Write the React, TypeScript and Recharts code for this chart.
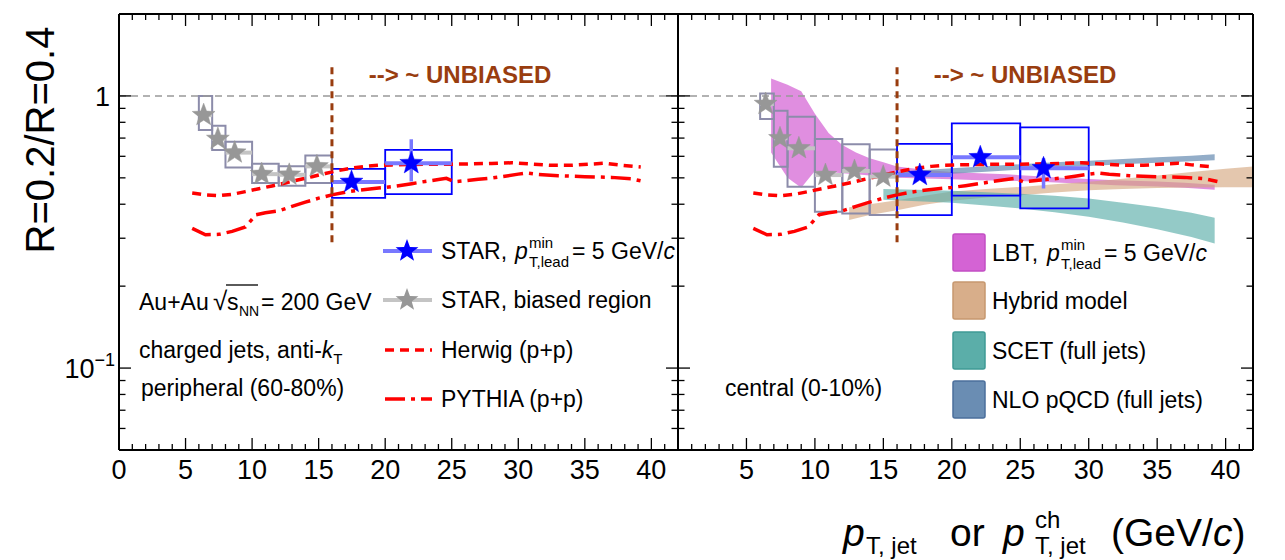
import React from "react";
import { ComposedChart, XAxis, YAxis, Line, Area, Scatter, ReferenceLine, ReferenceArea } from "recharts";

const FONT = "'Liberation Sans', Arial, Helvetica, sans-serif";

// ---------- axis ticks ----------
const xTicks = [0,1,2,3,4,5,6,7,8,9,10,11,12,13,14,15,16,17,18,19,20,21,22,23,24,25,26,27,28,29,30,31,32,33,34,35,36,37,38,39,40,41,42];
const xLabelsLeft = [0,5,10,15,20,25,30,35,40];
const xLabelsRight = [5,10,15,20,25,30,35,40];
const yTicks = [0.06,0.07,0.08,0.09,0.1,0.2,0.3,0.4,0.5,0.6,0.7,0.8,0.9,1];
const yMajor = [0.1, 1];

// ---------- p+p model curves (both panels) ----------
const herwigX = [5.5,6.5,7.5,8.5,9.5,10.5,11.5,12.5,13.5,14.5,15.5,16.5,17.5,18.5,19.5,20.5,22,24,26,28,29.5,31,32.5,34,35.5,36.5,37.5,39.2];
const herwigY = [0.44,0.433,0.43,0.435,0.445,0.456,0.467,0.479,0.492,0.505,0.519,0.532,0.543,0.551,0.556,0.558,0.56,0.561,0.562,0.565,0.568,0.562,0.556,0.556,0.562,0.566,0.558,0.548];
const pythiaX = [5.5,6.5,7.5,8.5,9.5,10.3,11,12,13,14,15,16,17,18,19,20,21,22,23,24,24.6,25.2,26,27,28,29,30,30.7,31.5,33,35,37,38.5,39.4];
const pythiaY = [0.326,0.309,0.31,0.318,0.33,0.366,0.372,0.378,0.393,0.407,0.421,0.433,0.443,0.45,0.456,0.461,0.468,0.476,0.485,0.493,0.498,0.484,0.488,0.494,0.499,0.507,0.516,0.521,0.515,0.509,0.505,0.502,0.496,0.485];

// ---------- peripheral (60-80%) ----------
const periGrayX = [6.36,7.43,8.69,10.72,12.79,14.87];
const periGrayY = [0.85,0.695,0.619,0.516,0.513,0.551];
const periGrayBinLo = [6,7,8,10,12,14];
const periGrayBinHi = [7,8,10,12,14,16];
const periGraySysLo = [0.749,0.633,0.546,0.479,0.468,0.479];
const periGraySysHi = [1.0,0.777,0.679,0.563,0.551,0.604];
const periBlueX = [17.47,21.96];
const periBlueY = [0.483,0.566];
const periBlueBinLo = [16,20];
const periBlueBinHi = [20,25];
const periBlueSysLo = [0.422,0.436];
const periBlueSysHi = [0.539,0.633];
const periBlueStatLo = [0.465,0.485];
const periBlueStatHi = [0.5,0.693];

// ---------- central (0-10%) ----------
const centGrayX = [6.4,7.45,8.83,10.77,12.89,14.99];
const centGrayY = [0.934,0.699,0.642,0.512,0.53,0.505];
const centGrayBinLo = [6,7,8,10,12,14];
const centGrayBinHi = [7,8,10,12,14,16];
const centGraySysLo = [0.823,0.549,0.464,0.375,0.37,0.365];
const centGraySysHi = [1.02,0.883,0.839,0.695,0.664,0.636];
const centBlueX = [17.66,22.08,26.7];
const centBlueY = [0.512,0.595,0.542];
const centBlueBinLo = [16,20,25];
const centBlueBinHi = [20,25,30];
const centBlueSysLo = [0.365,0.43,0.386];
const centBlueSysHi = [0.666,0.793,0.767];
const centBlueStatLo = [0.497,0.578,0.457];
const centBlueStatHi = [0.528,0.613,0.59];

// ---------- theory bands (central) ----------
const lbtX = [6.8,8,9,10,11,12,13,14,15,16,18,20,22,24,26,28,30,32,35,37,39.2];
const lbtLo = [0.62,0.5,0.46,0.53,0.525,0.52,0.515,0.51,0.505,0.5,0.497,0.494,0.49,0.488,0.485,0.48,0.475,0.47,0.465,0.46,0.452];
const lbtHi = [1.16,1.1,1.04,0.86,0.73,0.66,0.62,0.59,0.57,0.55,0.535,0.525,0.52,0.515,0.508,0.5,0.495,0.49,0.485,0.48,0.472];
const hybX = [12.5,14,16,18,20,22.5,25,27.5,30,32.5,35,37.5,40,42];
const hybLo = [0.35,0.365,0.38,0.398,0.412,0.423,0.432,0.442,0.45,0.455,0.459,0.461,0.462,0.462];
const hybHi = [0.39,0.4,0.414,0.43,0.445,0.455,0.463,0.474,0.484,0.496,0.51,0.525,0.54,0.55];
const scetX = [15,17.5,20,22.5,25,27.5,30,32.5,35,37.5,39.2];
const scetLo = [0.415,0.41,0.405,0.396,0.386,0.374,0.36,0.343,0.324,0.303,0.287];
const scetHi = [0.455,0.452,0.448,0.443,0.437,0.43,0.42,0.405,0.39,0.372,0.357];
const nloX = [15,17.5,20,22.5,25,27.5,30,32.5,35,37.5,39.2];
const nloLo = [0.498,0.508,0.518,0.527,0.536,0.545,0.553,0.561,0.568,0.575,0.58];
const nloHi = [0.522,0.532,0.542,0.552,0.561,0.57,0.578,0.587,0.595,0.603,0.61];

// ---------- builders ----------
const pts = (xs: number[], ys: number[]) => xs.map((x, i) => ({ x, y: ys[i] }));
const band = (xs: number[], lo: number[], hi: number[]) => xs.map((x, i) => ({ x, r: [lo[i], hi[i]] }));

const herwigData = pts(herwigX, herwigY);
const pythiaData = pts(pythiaX, pythiaY);

type PanelSet = {
  grayX: number[]; grayY: number[]; grayBinLo: number[]; grayBinHi: number[]; graySysLo: number[]; graySysHi: number[];
  blueX: number[]; blueY: number[]; blueBinLo: number[]; blueBinHi: number[]; blueSysLo: number[]; blueSysHi: number[];
  blueStatLo: number[]; blueStatHi: number[];
};

const peri: PanelSet = {
  grayX: periGrayX, grayY: periGrayY, grayBinLo: periGrayBinLo, grayBinHi: periGrayBinHi, graySysLo: periGraySysLo, graySysHi: periGraySysHi,
  blueX: periBlueX, blueY: periBlueY, blueBinLo: periBlueBinLo, blueBinHi: periBlueBinHi, blueSysLo: periBlueSysLo, blueSysHi: periBlueSysHi,
  blueStatLo: periBlueStatLo, blueStatHi: periBlueStatHi,
};
const cent: PanelSet = {
  grayX: centGrayX, grayY: centGrayY, grayBinLo: centGrayBinLo, grayBinHi: centGrayBinHi, graySysLo: centGraySysLo, graySysHi: centGraySysHi,
  blueX: centBlueX, blueY: centBlueY, blueBinLo: centBlueBinLo, blueBinHi: centBlueBinHi, blueSysLo: centBlueSysLo, blueSysHi: centBlueSysHi,
  blueStatLo: centBlueStatLo, blueStatHi: centBlueStatHi,
};

// ---------- colours ----------
const GRAY_STAR = "#979797";
const GRAY_BOX = "#8C8CAA";
const GRAY_BAR = "#C4C4C4";
const BLUE = "#0000FF";
const BLUE_BAR = "#7878FF";
const RED = "#FF0000";
const BROWN = "#993D0F";
const LBT_C = "#D463D4";
const HYB_C = "#D4A57C";
const SCET_C = "#5BAEA9";
const NLO_C = "#6A8DB3";

function starPoints(cx: number, cy: number, R: number, r: number) {
  const p: string[] = [];
  for (let i = 0; i < 10; i++) {
    const a = (-90 + i * 36) * Math.PI / 180;
    const rad = i % 2 === 0 ? R : r;
    p.push(`${cx + rad * Math.cos(a)},${cy + rad * Math.sin(a)}`);
  }
  return p.join(" ");
}

const StarShape = (fill: string) => (props: any) => {
  const { cx, cy } = props;
  if (cx == null || cy == null) return <g />;
  return <polygon points={starPoints(cx, cy, 12, 5)} fill={fill} stroke={fill} strokeWidth={0.5} />;
};

// ---------- tick renderers ----------
const makeXTick = (labels: number[], top: boolean) => (props: any) => {
  const { x, y, payload } = props;
  const v = payload.value;
  const major = v % 5 === 0;
  const len = major ? 12 : 6;
  return (
    <g>
      <line x1={x} x2={x} y1={y} y2={top ? y + len : y - len} stroke="#000" strokeWidth={1.3} />
      {!top && major && labels.includes(v) && (
        <text x={x} y={y + 29} textAnchor="middle" fontSize={27} fontFamily={FONT} fill="#000">{v}</text>
      )}
    </g>
  );
};

const makeYTick = (showLabels: boolean, right: boolean) => (props: any) => {
  const { x, y, payload } = props;
  const v = payload.value;
  const major = yMajor.includes(v);
  const len = major ? 12 : 6.5;
  let label: any = null;
  if (showLabels && !right && v === 1) {
    label = <text x={x - 9} y={y + 10} textAnchor="end" fontSize={27} fontFamily={FONT} fill="#000">1</text>;
  }
  if (showLabels && !right && v === 0.1) {
    label = (
      <text x={x - 4} y={y + 10} textAnchor="end" fontSize={27} fontFamily={FONT} fill="#000">
        <tspan>10</tspan>
        <tspan dy={-12} fontSize={18}>−1</tspan>
      </text>
    );
  }
  return (
    <g>
      <line x1={x} x2={right ? x - len : x + len} y1={y} y2={y} stroke="#000" strokeWidth={1.3} />
      {label}
    </g>
  );
};

// ---------- panel ----------
function Panel(props: { set: PanelSet; width: number; margin: any; labels: number[]; yLabels: boolean; bands: boolean }) {
  const { set, width, margin, labels, yLabels, bands } = props;
  const grayPts = pts(set.grayX, set.grayY);
  const bluePts = pts(set.blueX, set.blueY);
  const axisLine = { stroke: "#000", strokeWidth: 2 };
  return (
    <ComposedChart width={width} height={560} margin={margin}>
      <XAxis type="number" dataKey="x" domain={[0, 42]} allowDataOverflow ticks={xTicks} interval={0}
        tickSize={0} tickMargin={0} tickLine={false} height={1} axisLine={axisLine} tick={makeXTick(labels, false)} />
      <XAxis xAxisId="top" orientation="top" type="number" dataKey="x" domain={[0, 42]} allowDataOverflow ticks={xTicks} interval={0}
        tickSize={0} tickMargin={0} tickLine={false} height={1} axisLine={axisLine} tick={makeXTick(labels, true)} />
      <YAxis type="number" dataKey="y" scale="log" domain={[0.05, 2]} allowDataOverflow ticks={yTicks} interval={0}
        tickSize={0} tickMargin={0} tickLine={false} width={1} axisLine={axisLine} tick={makeYTick(yLabels, false)} />
      <YAxis yAxisId="right" orientation="right" type="number" dataKey="y" scale="log" domain={[0.05, 2]} allowDataOverflow ticks={yTicks} interval={0}
        tickSize={0} tickMargin={0} tickLine={false} width={1} axisLine={axisLine} tick={makeYTick(false, true)} />

      {bands && <Area data={band(lbtX, lbtLo, lbtHi)} dataKey="r" type="linear" stroke="none" fill={LBT_C} fillOpacity={0.72} isAnimationActive={false} dot={false} activeDot={false} />}
      {bands && <Area data={band(hybX, hybLo, hybHi)} dataKey="r" type="linear" stroke="none" fill={HYB_C} fillOpacity={0.62} isAnimationActive={false} dot={false} activeDot={false} />}
      {bands && <Area data={band(scetX, scetLo, scetHi)} dataKey="r" type="linear" stroke="none" fill={SCET_C} fillOpacity={0.65} isAnimationActive={false} dot={false} activeDot={false} />}
      {bands && <Area data={band(nloX, nloLo, nloHi)} dataKey="r" type="linear" stroke="none" fill={NLO_C} fillOpacity={0.72} isAnimationActive={false} dot={false} activeDot={false} />}

      <ReferenceLine y={1} stroke="#999" strokeWidth={1.5} strokeDasharray="7 5" />

      <Line data={herwigData} dataKey="y" type="linear" stroke={RED} strokeWidth={3.5} strokeDasharray="9 6" dot={false} activeDot={false} isAnimationActive={false} />
      <Line data={pythiaData} dataKey="y" type="linear" stroke={RED} strokeWidth={3.5} strokeDasharray="20 6 4 6" dot={false} activeDot={false} isAnimationActive={false} />

      {set.grayX.map((_, i) => (
        <ReferenceArea key={"gb" + i} x1={set.grayBinLo[i]} x2={set.grayBinHi[i]} y1={set.graySysLo[i]} y2={set.graySysHi[i]}
          fill="none" fillOpacity={0} stroke={GRAY_BOX} strokeWidth={2} ifOverflow="visible" />
      ))}
      {set.blueX.map((_, i) => (
        <ReferenceArea key={"bb" + i} x1={set.blueBinLo[i]} x2={set.blueBinHi[i]} y1={set.blueSysLo[i]} y2={set.blueSysHi[i]}
          fill="none" fillOpacity={0} stroke={BLUE} strokeWidth={1.8} ifOverflow="visible" />
      ))}
      {set.grayX.map((_, i) => (
        <ReferenceLine key={"gh" + i} segment={[{ x: set.grayBinLo[i], y: set.grayY[i] }, { x: set.grayBinHi[i], y: set.grayY[i] }]}
          stroke={GRAY_BAR} strokeWidth={4} />
      ))}
      {set.blueX.map((_, i) => (
        <ReferenceLine key={"bh" + i} segment={[{ x: set.blueBinLo[i], y: set.blueY[i] }, { x: set.blueBinHi[i], y: set.blueY[i] }]}
          stroke={BLUE_BAR} strokeWidth={4} />
      ))}
      {set.blueX.map((_, i) => (
        <ReferenceLine key={"bv" + i} segment={[{ x: set.blueX[i], y: set.blueStatLo[i] }, { x: set.blueX[i], y: set.blueStatHi[i] }]}
          stroke={BLUE_BAR} strokeWidth={3.5} />
      ))}

      <ReferenceLine segment={[{ x: 16, y: 0.29 }, { x: 16, y: 1.33 }]} stroke={BROWN} strokeWidth={3} strokeDasharray="7 5" />

      <Scatter data={grayPts} dataKey="y" shape={StarShape(GRAY_STAR)} isAnimationActive={false} />
      <Scatter data={bluePts} dataKey="y" shape={StarShape(BLUE)} isAnimationActive={false} />
    </ComposedChart>
  );
}

// ---------- overlay text helpers ----------
function PLeadText({ x, y, label, off }: { x: number; y: number; label: string; off: number }) {
  return (
    <g fontFamily={FONT} fill="#000">
      <text x={x} y={y} fontSize={23}>{label}</text>
      <text x={x + off} y={y} fontSize={23} fontStyle="italic">p</text>
      <text x={x + off + 14} y={y - 11} fontSize={15}>min</text>
      <text x={x + off + 14} y={y + 8} fontSize={15}>T,lead</text>
      <text x={x + off + 57} y={y} fontSize={23}>= 5 GeV/<tspan fontStyle="italic">c</tspan></text>
    </g>
  );
}

function Overlay() {
  const rows = [259, 308, 358, 407];
  const rrows = [261, 309, 359, 408];
  const swatches = [
    { c: LBT_C, b: "#C24FC4" },
    { c: "#D8AE8A", b: "#C6986F" },
    { c: SCET_C, b: "#3F9A95" },
    { c: NLO_C, b: "#4B6F9C" },
  ];
  return (
    <svg width={1285} height={560} style={{ position: "absolute", left: 0, top: 0, pointerEvents: "none" }}>
      {/* y title */}
      <text transform="translate(54,140) rotate(-90)" textAnchor="middle" fontSize={40} fontFamily={FONT} fill="#000">R=0.2/R=0.4</text>

      {/* x title */}
      <g fontFamily={FONT} fill="#000">
        <text x={843} y={546} fontSize={39} fontStyle="italic">p</text>
        <text x={866} y={554} fontSize={24}>T, jet</text>
        <text x={950} y={546} fontSize={39}>or</text>
        <text x={1003} y={546} fontSize={39} fontStyle="italic">p</text>
        <text x={1035} y={528} fontSize={24}>ch</text>
        <text x={1035} y={554} fontSize={24}>T, jet</text>
        <text x={1111} y={546} fontSize={39}>(GeV/<tspan fontStyle="italic">c</tspan>)</text>
      </g>

      {/* UNBIASED annotations */}
      <text x={460} y={83} textAnchor="middle" fontSize={24} fontWeight="bold" fontFamily={FONT} fill={BROWN}>--&gt; ~ UNBIASED</text>
      <text x={1025} y={83} textAnchor="middle" fontSize={24} fontWeight="bold" fontFamily={FONT} fill={BROWN}>--&gt; ~ UNBIASED</text>

      {/* left info text */}
      <g fontFamily={FONT} fill="#000" fontSize={23}>
        <text x={139} y={310}>Au+Au </text>
        <text x={213} y={310} fontSize={26}>√</text>
        <line x1={226} x2={258} y1={285} y2={285} stroke="#000" strokeWidth={1.3} />
        <text x={227} y={310}>s</text>
        <text x={239} y={316} fontSize={14}>NN</text>
        <text x={261} y={310}> = 200 GeV</text>
        <text x={139} y={358}>charged jets, anti-<tspan fontStyle="italic">k</tspan><tspan fontSize={15} dy={6}>T</tspan></text>
        <text x={141} y={396}>peripheral (60-80%)</text>
        <text x={725} y={396}>central (0-10%)</text>
      </g>

      {/* left legend */}
      <line x1={383} x2={432} y1={rows[0] - 8} y2={rows[0] - 8} stroke={BLUE_BAR} strokeWidth={4} />
      <polygon points={starPoints(407, rows[0] - 8, 12, 5)} fill={BLUE} />
      <PLeadText x={441} y={rows[0]} label="STAR, " off={74} />
      <line x1={383} x2={432} y1={rows[1] - 8} y2={rows[1] - 8} stroke={GRAY_BAR} strokeWidth={4} />
      <polygon points={starPoints(407, rows[1] - 8, 12, 5)} fill={GRAY_STAR} />
      <text x={441} y={rows[1]} fontSize={23} fontFamily={FONT}>STAR, biased region</text>
      <line x1={385} x2={432} y1={rows[2] - 8} y2={rows[2] - 8} stroke={RED} strokeWidth={3.5} strokeDasharray="9 6" />
      <text x={441} y={rows[2]} fontSize={23} fontFamily={FONT}>Herwig (p+p)</text>
      <line x1={385} x2={432} y1={rows[3] - 8} y2={rows[3] - 8} stroke={RED} strokeWidth={3.5} strokeDasharray="20 6 4 6" />
      <text x={441} y={rows[3]} fontSize={23} fontFamily={FONT}>PYTHIA (p+p)</text>

      {/* right legend */}
      {swatches.map((s, i) => (
        <rect key={i} x={953} y={rrows[i] - 27} width={32} height={37} fill={s.c} stroke={s.b} strokeWidth={1.5} rx={2} />
      ))}
      <PLeadText x={992} y={rrows[0]} label="LBT, " off={55} />
      <text x={992} y={rrows[1]} fontSize={23} fontFamily={FONT}>Hybrid model</text>
      <text x={992} y={rrows[2]} fontSize={23} fontFamily={FONT}>SCET (full jets)</text>
      <text x={992} y={rrows[3]} fontSize={23} fontFamily={FONT}>NLO pQCD (full jets)</text>
    </svg>
  );
}

export default function App() {
  return (
    <div style={{ position: "absolute", left: 0, top: 0, width: 1285, height: 560, overflow: "hidden", background: "#fff", fontFamily: FONT }}>
      <div style={{ position: "absolute", left: 0, top: 0 }}>
        <Panel set={peri} width={700} margin={{ top: 13, bottom: 109, left: 118, right: 21 }} labels={xLabelsLeft} yLabels={true} bands={false} />
      </div>
      <div style={{ position: "absolute", left: 600, top: 0 }}>
        <Panel set={cent} width={685} margin={{ top: 13, bottom: 109, left: 77, right: 31 }} labels={xLabelsRight} yLabels={false} bands={true} />
      </div>
      <Overlay />
    </div>
  );
}
